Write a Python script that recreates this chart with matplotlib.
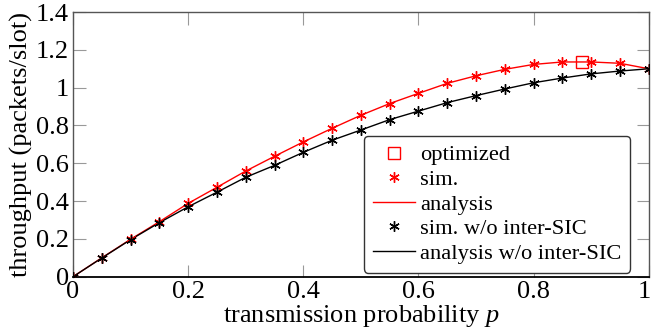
import matplotlib
matplotlib.use("Agg")
import matplotlib.pyplot as plt
import matplotlib.transforms as mtransforms

plt.rcParams['font.family'] = ['Liberation Serif', 'DejaVu Serif']
plt.rcParams['mathtext.fontset'] = 'custom'
plt.rcParams['mathtext.it'] = 'Liberation Serif:italic'
plt.rcParams['mathtext.rm'] = 'Liberation Serif'

p = [0.0, 0.05, 0.1, 0.15, 0.2, 0.25, 0.3, 0.35, 0.4, 0.45, 0.5,
     0.55, 0.6, 0.65, 0.7, 0.75, 0.8, 0.85, 0.9, 0.95, 1.0]
sim_sic = [0.0, 0.100, 0.198, 0.291, 0.388, 0.473, 0.559, 0.637, 0.713, 0.785, 0.854,
           0.916, 0.970, 1.023, 1.063, 1.097, 1.123, 1.136, 1.136, 1.129, 1.100]
ana_sic = [0.0, 0.100, 0.198, 0.291, 0.388, 0.473, 0.559, 0.637, 0.713, 0.785, 0.854,
           0.916, 0.970, 1.023, 1.063, 1.097, 1.123, 1.136, 1.136, 1.129, 1.100]
sim_nosic = [0.0, 0.099, 0.196, 0.286, 0.370, 0.447, 0.526, 0.589, 0.658, 0.722, 0.776,
             0.831, 0.876, 0.921, 0.958, 0.993, 1.026, 1.051, 1.073, 1.088, 1.100]
ana_nosic = [0.0, 0.099, 0.196, 0.286, 0.370, 0.447, 0.526, 0.589, 0.658, 0.722, 0.776,
             0.831, 0.876, 0.921, 0.958, 0.993, 1.026, 1.051, 1.073, 1.088, 1.100]
opt_p = [0.884]
opt_thr = [1.137]

xticks = [0, 0.2, 0.4, 0.6, 0.8, 1.0]
xticklabels = ["0", "0.2", "0.4", "0.6", "0.8", "1"]
yticks = [0, 0.2, 0.4, 0.6, 0.8, 1.0, 1.2, 1.4]
yticklabels = ["0", "0.2", "0.4", "0.6", "0.8", "1", "1.2", "1.4"]

fig = plt.figure(figsize=(6.52, 3.35), dpi=100)
ax = fig.add_axes([0.112, 0.174, 0.883, 0.790])

star = (6, 2, 0)
ax.plot(opt_p, opt_thr, linestyle='none', marker='s', markersize=8.5,
        markerfacecolor='none', markeredgecolor='red', markeredgewidth=1.0,
        label='optimized', zorder=5)
ax.plot(p, sim_sic, linestyle='none', marker=star, markersize=7.5,
        markeredgecolor='red', markeredgewidth=1.0, color='red', label='sim.', zorder=4)
ax.plot(p, ana_sic, color='red', linewidth=1.0, label='analysis', zorder=3)
ax.plot(p, sim_nosic, linestyle='none', marker=star, markersize=7.5,
        markeredgecolor='black', markeredgewidth=1.0, color='black',
        label='sim. w/o inter-SIC', zorder=4)
ax.plot(p, ana_nosic, color='black', linewidth=1.0, label='analysis w/o inter-SIC', zorder=3)

ax.set_xlim(0, 1)
ax.set_ylim(0, 1.4)
ax.set_xticks(xticks)
ax.set_xticklabels(xticklabels)
ax.set_yticks(yticks)
ax.set_yticklabels(yticklabels)
ax.tick_params(direction='in', length=9, width=0.8, color='#999999',
               labelsize=19, top=True, right=True, pad=3)
for s in ax.spines.values():
    s.set_color('#555555')
    s.set_linewidth(1.0)
ax.spines['bottom'].set_color('black')
ax.spines['bottom'].set_linewidth(1.3)

# keep the last x tick label inside the canvas
last = ax.get_xticklabels()[-1]
last.set_transform(last.get_transform() +
                   mtransforms.ScaledTranslation(-4 / 100, 0, fig.dpi_scale_trans))

ax.set_xlabel('transmission probability $p$', fontsize=19, labelpad=0)
ax.set_ylabel('throughput (packets/slot)', fontsize=19, labelpad=2)

leg = ax.legend(loc='lower right', bbox_to_anchor=(0.968, 0.015), fontsize=16.2,
                frameon=True, fancybox=True, framealpha=1, edgecolor='#333333',
                handlelength=1.9, handletextpad=0.2, borderpad=0.4, labelspacing=0.17,
                borderaxespad=0)
leg.get_frame().set_linewidth(1.0)

fig.savefig('out.png', dpi=100)
